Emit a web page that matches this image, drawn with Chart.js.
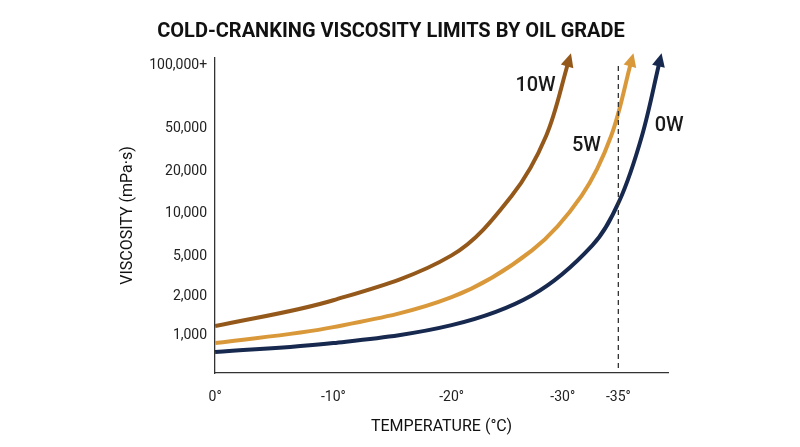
<!DOCTYPE html>
<html><head><meta charset="utf-8">
<script src="https://cdn.jsdelivr.net/npm/chart.js@4/dist/chart.umd.min.js"></script>
<style>html,body{margin:0;background:#fff}#wrap{width:800px;height:447px}</style>
</head><body><div id="wrap"><canvas id="c"></canvas></div>
<script>
// schematic positions (x = degrees below zero, y = axis position units)
const xTickPos = [0, 10, 20, 29.4, 34.1];
const xTickLabels = ['0°', '-10°', '-20°', '-30°', '-35°'];
const yTickPos = [38, 77, 117, 160, 202, 245, 308];
const yTickLabels = ['1,000', '2,000', '5,000', '10,000', '20,000', '50,000', '100,000+'];
const gradeNames = ['0W', '5W', '10W'];
const gradeColors = ['#17294f', '#d9993a', '#94591a'];
const w0 = [[0,21],[10,30],[20,48],[26.8,78],[31.9,128],[34.2,173],[36.1,238],[37.6,313]];
const w5 = [[0,30],[10,46],[20,76],[26.8,123],[31,178],[33.5,238],[35.2,313]];
const w10 = [[0,47],[10,73],[20,118],[25.1,178],[28,238],[29.9,313]];
const labelPos = [[38.4,248],[31.4,228],[27.1,288]];
const coldLimit = 34.1;

const series = [w0, w5, w10];

const extras = {
  id: 'extras',
  afterDatasetsDraw(chart) {
    const {ctx, scales: {x, y}} = chart;
    ctx.save();
    // dashed limit line
    ctx.setLineDash([5, 4]);
    ctx.strokeStyle = '#333'; ctx.lineWidth = 1.3;
    ctx.beginPath();
    ctx.moveTo(x.getPixelForValue(coldLimit), y.getPixelForValue(308));
    ctx.lineTo(x.getPixelForValue(coldLimit), y.bottom);
    ctx.stroke();
    ctx.setLineDash([]);
    series.forEach((s, i) => {
      const meta = chart.getDatasetMeta(i).data;
      const a = meta[meta.length - 1], b = meta[meta.length - 2];
      const ang = Math.atan2(a.y - b.y, a.x - b.x);
      const tipX = a.x + Math.cos(ang) * 8, tipY = a.y + Math.sin(ang) * 8;
      ctx.fillStyle = gradeColors[i];
      ctx.beginPath();
      ctx.moveTo(tipX, tipY);
      ctx.lineTo(tipX - 15 * Math.cos(ang - 0.45), tipY - 15 * Math.sin(ang - 0.45));
      ctx.lineTo(tipX - 15 * Math.cos(ang + 0.45), tipY - 15 * Math.sin(ang + 0.45));
      ctx.closePath(); ctx.fill();
      ctx.fillStyle = '#1a1a1a';
      ctx.font = '500 20px Roboto';
      ctx.textAlign = 'center'; ctx.textBaseline = 'middle';
      ctx.fillText(gradeNames[i], x.getPixelForValue(labelPos[i][0]), y.getPixelForValue(labelPos[i][1]));
    });
    ctx.restore();
  }
};

new Chart(document.getElementById('c'), {
  type: 'line',
  data: {
    datasets: series.map((s, i) => ({
      label: gradeNames[i],
      data: s.map(p => ({x: p[0], y: p[1]})),
      borderColor: gradeColors[i], borderWidth: 4,
      pointRadius: 0, tension: 0.35
    }))
  },
  options: {
    responsive: true, maintainAspectRatio: false, animation: false,
    layout: {padding: {left: 114, right: 132, top: 14, bottom: 6}},
    plugins: {
      legend: {display: false}, tooltip: {enabled: false},
      title: {display: true, text: 'COLD-CRANKING VISCOSITY LIMITS BY OIL GRADE',
        color: '#111', font: {family: 'Roboto', size: 20, weight: 'bold'}, padding: {top: 6, bottom: 14}}
    },
    scales: {
      x: {
        type: 'linear', min: 0, max: 38.3,
        afterBuildTicks: sc => { sc.ticks = xTickPos.map(v => ({value: v})); },
        ticks: {callback: (v, i) => xTickLabels[i], color: '#222', font: {family: 'Roboto', size: 14}, maxRotation: 0, padding: 8},
        grid: {display: false},
        border: {color: '#333', width: 1.3},
        title: {display: true, text: 'TEMPERATURE (°C)', color: '#111', font: {family: 'Roboto', size: 16}}
      },
      y: {
        type: 'linear', min: 0, max: 316,
        afterBuildTicks: sc => { sc.ticks = yTickPos.map(v => ({value: v})); },
        ticks: {callback: (v, i) => yTickLabels[i], color: '#222', font: {family: 'Roboto', size: 14}, padding: 8},
        grid: {display: false, drawTicks: false},
        border: {color: '#333', width: 1.3},
        title: {display: true, text: 'VISCOSITY (mPa·s)', color: '#111', font: {family: 'Roboto', size: 16}}
      }
    }
  },
  plugins: [extras]
});
</script></body></html>
